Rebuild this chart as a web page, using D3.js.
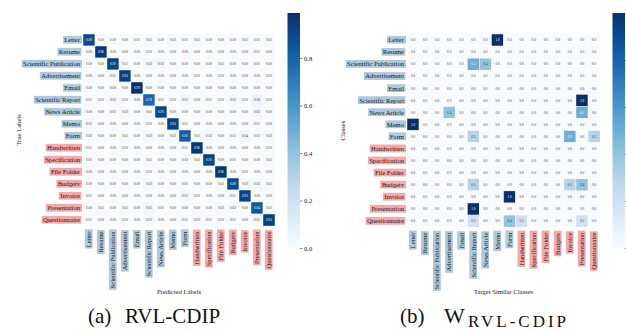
<!DOCTYPE html>
<html>
<head>
<meta charset="utf-8">
<script src="https://cdn.jsdelivr.net/npm/d3@7"></script>
<style>
  body { margin: 0; background: #fff; }
  svg { display: block; }
  text { font-family: "Liberation Serif", "DejaVu Serif", serif; }
</style>
</head>
<body>
<svg id="chart" width="626" height="330"></svg>
<script>
// Document classes: the first group is drawn with blue label boxes, the second with red ones
const baseClasses = ["Letter", "Resume", "Scientific Publication", "Advertisement", "Email",
  "Scientific Report", "News Article", "Memo", "Form"];
const novelClasses = ["Handwritten", "Specification", "File Folder", "Budgetv", "Invoice",
  "Presentation", "Questionnaire"];
const classes = baseClasses.concat(novelClasses);

// Normalised confusion matrix (rows: true label, columns: predicted label)
const confusion = [
  [0.89,0.00,0.00,0.00,0.01,0.01,0.00,0.02,0.01,0.01,0.00,0.00,0.00,0.01,0.01,0.01],
  [0.00,0.96,0.00,0.00,0.00,0.01,0.00,0.00,0.00,0.00,0.00,0.00,0.00,0.00,0.01,0.00],
  [0.00,0.00,0.92,0.01,0.00,0.03,0.02,0.00,0.00,0.00,0.00,0.01,0.00,0.00,0.01,0.00],
  [0.00,0.00,0.01,0.93,0.00,0.00,0.00,0.00,0.00,0.01,0.00,0.01,0.00,0.00,0.00,0.01],
  [0.00,0.00,0.00,0.00,0.99,0.00,0.00,0.00,0.00,0.00,0.00,0.00,0.00,0.00,0.00,0.00],
  [0.01,0.01,0.02,0.01,0.00,0.78,0.01,0.01,0.03,0.00,0.01,0.01,0.02,0.01,0.06,0.01],
  [0.00,0.00,0.01,0.02,0.00,0.01,0.91,0.00,0.00,0.00,0.00,0.00,0.00,0.00,0.03,0.00],
  [0.02,0.00,0.00,0.00,0.00,0.01,0.00,0.93,0.01,0.00,0.00,0.00,0.00,0.00,0.01,0.00],
  [0.02,0.00,0.00,0.01,0.00,0.02,0.00,0.02,0.82,0.01,0.02,0.00,0.01,0.04,0.01,0.02],
  [0.01,0.00,0.00,0.01,0.00,0.00,0.00,0.00,0.01,0.96,0.00,0.00,0.00,0.00,0.00,0.01],
  [0.01,0.00,0.00,0.00,0.00,0.01,0.00,0.00,0.02,0.01,0.92,0.00,0.01,0.00,0.00,0.01],
  [0.00,0.00,0.00,0.00,0.00,0.01,0.00,0.00,0.00,0.00,0.00,0.96,0.00,0.01,0.00,0.00],
  [0.00,0.00,0.00,0.00,0.00,0.02,0.00,0.00,0.01,0.00,0.00,0.01,0.89,0.02,0.03,0.01],
  [0.01,0.00,0.00,0.00,0.00,0.00,0.00,0.00,0.03,0.01,0.00,0.00,0.01,0.91,0.00,0.00],
  [0.00,0.01,0.00,0.01,0.00,0.05,0.01,0.00,0.00,0.00,0.00,0.02,0.02,0.00,0.84,0.01],
  [0.01,0.00,0.00,0.01,0.00,0.02,0.00,0.00,0.01,0.02,0.01,0.01,0.01,0.00,0.02,0.93]
];

// Similarity weights between classes (rows: class, columns: target similar class)
const similarity = [
  [0.0,0.0,0.0,0.0,0.0,0.0,0.0,1.0,0.0,0.0,0.0,0.0,0.0,0.0,0.0,0.0],
  [0.0,0.0,0.0,0.0,0.0,0.0,0.0,0.0,0.0,0.0,0.0,0.0,0.0,0.0,0.0,0.0],
  [0.0,0.0,0.0,0.0,0.0,0.5,0.4,0.0,0.0,0.0,0.0,0.0,0.0,0.0,0.0,0.0],
  [0.0,0.0,0.0,0.0,0.0,0.0,0.0,0.0,0.0,0.0,0.0,0.0,0.0,0.0,0.0,0.0],
  [0.0,0.0,0.0,0.0,0.0,0.0,0.0,0.0,0.0,0.0,0.0,0.0,0.0,0.0,0.0,0.0],
  [0.0,0.0,0.0,0.0,0.0,0.0,0.0,0.0,0.0,0.0,0.0,0.0,0.0,0.0,1.0,0.0],
  [0.0,0.0,0.0,0.4,0.0,0.0,0.0,0.0,0.0,0.0,0.0,0.0,0.0,0.0,0.5,0.0],
  [1.0,0.0,0.0,0.0,0.0,0.0,0.0,0.0,0.0,0.0,0.0,0.0,0.0,0.0,0.0,0.0],
  [0.0,0.0,0.0,0.0,0.0,0.3,0.0,0.0,0.0,0.0,0.0,0.0,0.0,0.5,0.0,0.3],
  [0.0,0.0,0.0,0.0,0.0,0.0,0.0,0.0,0.0,0.0,0.0,0.0,0.0,0.0,0.0,0.0],
  [0.0,0.0,0.0,0.0,0.0,0.0,0.0,0.0,0.0,0.0,0.0,0.0,0.0,0.0,0.0,0.0],
  [0.0,0.0,0.0,0.0,0.0,0.0,0.0,0.0,0.0,0.0,0.0,0.0,0.0,0.0,0.0,0.0],
  [0.0,0.0,0.0,0.0,0.0,0.3,0.0,0.0,0.0,0.0,0.0,0.0,0.0,0.3,0.4,0.0],
  [0.0,0.0,0.0,0.0,0.0,0.0,0.0,0.0,1.0,0.0,0.0,0.0,0.0,0.0,0.0,0.0],
  [0.0,0.0,0.0,0.0,0.0,1.0,0.0,0.0,0.0,0.0,0.0,0.0,0.0,0.0,0.0,0.0],
  [0.0,0.0,0.0,0.0,0.0,0.2,0.0,0.0,0.4,0.2,0.0,0.0,0.0,0.0,0.2,0.0]
];

const colorbarTicks = [0.0, 0.2, 0.4, 0.6, 0.8];

const svg = d3.select("#chart");
const labelFill = c => baseClasses.includes(c) ? "#aecade" : "#f6a9aa";

// Relative luminance, used to pick white or dark annotation text
function luminance(col) {
  const c = d3.rgb(col);
  const lin = v => { v /= 255; return v <= 0.03928 ? v / 12.92 : Math.pow((v + 0.055) / 1.055, 2.4); };
  return 0.2126 * lin(c.r) + 0.7152 * lin(c.g) + 0.0722 * lin(c.b);
}

function boxedText(g, str, fill) {
  const t = g.append("text")
    .attr("text-anchor", "end")
    .attr("dy", "0.34em")
    .attr("font-size", 6.6)
    .attr("fill", "#1a1a1a")
    .text(str);
  const b = t.node().getBBox();
  g.insert("rect", "text")
    .attr("x", b.x - 1.3).attr("y", b.y - 0.4)
    .attr("width", b.width + 2.6).attr("height", b.height + 0.8)
    .attr("fill", fill);
}

function drawPanel(opt) {
  const n = classes.length;
  const size = opt.cell * n;
  const x = d3.scaleBand().domain(classes).range([opt.x0, opt.x0 + size]);
  const y = d3.scaleBand().domain(classes).range([opt.y0, opt.y0 + size]);
  const color = d3.scaleSequential(d3.interpolateBlues).domain([0, opt.vmax]);
  const fmt = d3.format(opt.fmt);

  const cells = [];
  opt.matrix.forEach((row, i) => row.forEach((v, j) =>
    cells.push({ r: classes[i], c: classes[j], v })));

  const g = svg.append("g");
  g.selectAll("rect.cell").data(cells).join("rect")
    .attr("class", "cell")
    .attr("x", d => x(d.c)).attr("y", d => y(d.r))
    .attr("width", x.bandwidth()).attr("height", y.bandwidth())
    .attr("fill", d => color(d.v))
    .attr("stroke", "#ffffff").attr("stroke-width", 0.4);

  g.selectAll("text.val").data(cells).join("text")
    .attr("class", "val")
    .attr("x", d => x(d.c) + x.bandwidth() / 2)
    .attr("y", d => y(d.r) + y.bandwidth() / 2)
    .attr("dy", "0.35em")
    .attr("text-anchor", "middle")
    .attr("font-size", 3.4)
    .attr("fill", d => luminance(color(d.v)) < 0.408 ? "#ffffff" : "#3a3a3a")
    .text(d => fmt(d.v));

  // Row labels
  classes.forEach(c => {
    const lg = g.append("g").attr("transform", `translate(${opt.x0 - 3},${y(c) + y.bandwidth() / 2})`);
    boxedText(lg, c, labelFill(c));
  });
  // Column labels, rotated
  classes.forEach(c => {
    const lg = g.append("g")
      .attr("transform", `translate(${x(c) + x.bandwidth() / 2},${opt.y0 + size + 5.5}) rotate(-90)`);
    boxedText(lg, c, labelFill(c));
  });

  // Axis titles
  g.append("text")
    .attr("transform", `translate(${opt.rowTitleX},${opt.y0 + size / 2}) rotate(-90)`)
    .attr("text-anchor", "middle").attr("font-size", 6.6).attr("fill", "#1a1a1a")
    .text(opt.rowTitle);
  g.append("text")
    .attr("x", opt.x0 + size / 2).attr("y", 294)
    .attr("text-anchor", "middle").attr("font-size", 6.6).attr("fill", "#1a1a1a")
    .text(opt.colTitle);

  // Colour bar
  const barTop = 13, barBottom = 248, barW = 12.5;
  const gid = "grad" + opt.id;
  const grad = svg.append("defs").append("linearGradient")
    .attr("id", gid).attr("x1", 0).attr("y1", 1).attr("x2", 0).attr("y2", 0);
  d3.range(0, 1.0001, 0.05).forEach(t =>
    grad.append("stop").attr("offset", t).attr("stop-color", d3.interpolateBlues(t)));
  g.append("rect")
    .attr("x", opt.barX).attr("y", barTop)
    .attr("width", barW).attr("height", barBottom - barTop)
    .attr("fill", `url(#${gid})`);
  const bs = d3.scaleLinear().domain([0, opt.vmax]).range([barBottom, barTop]);
  const axis = d3.axisRight(bs).tickValues(colorbarTicks).tickSize(2.5).tickPadding(1.5)
    .tickFormat(opt.barLabels ? d3.format(".1f") : () => "");
  const ag = g.append("g").attr("transform", `translate(${opt.barX + barW},0)`).call(axis);
  ag.select(".domain").remove();
  ag.selectAll(".tick line").attr("stroke", "#333").attr("stroke-width", 0.6);
  ag.selectAll(".tick text").attr("font-size", 6.6).attr("fill", "#1a1a1a")
    .attr("font-family", "Liberation Serif, serif");
}

drawPanel({ id: "a", matrix: confusion, x0: 83, y0: 34, cell: 12, vmax: 0.99, fmt: ".2f",
  rowTitle: "True Labels", colTitle: "Predicted Labels", rowTitleX: 21,
  barX: 287.5, barLabels: true });
drawPanel({ id: "b", matrix: similarity, x0: 407, y0: 34, cell: 12.07, vmax: 1.0, fmt: ".1f",
  rowTitle: "Classes", colTitle: "Target Similar Classes", rowTitleX: 345,
  barX: 612.5, barLabels: false });

// Sub-figure captions
const capA = svg.append("text").attr("y", 323).attr("font-size", 21).attr("fill", "#111");
capA.append("tspan").attr("x", 88).text("(a)");
capA.append("tspan").attr("x", 125).text("RVL-CDIP");

const capB = svg.append("text").attr("y", 323).attr("font-size", 21).attr("fill", "#111");
capB.append("tspan").attr("x", 400).text("(b)");
capB.append("tspan").attr("x", 444).attr("font-size", 22).text("W");
capB.append("tspan").attr("x", 468).attr("dy", 4).attr("font-size", 17)
  .attr("letter-spacing", 3).text("RVL-CDIP");
</script>
</body>
</html>
